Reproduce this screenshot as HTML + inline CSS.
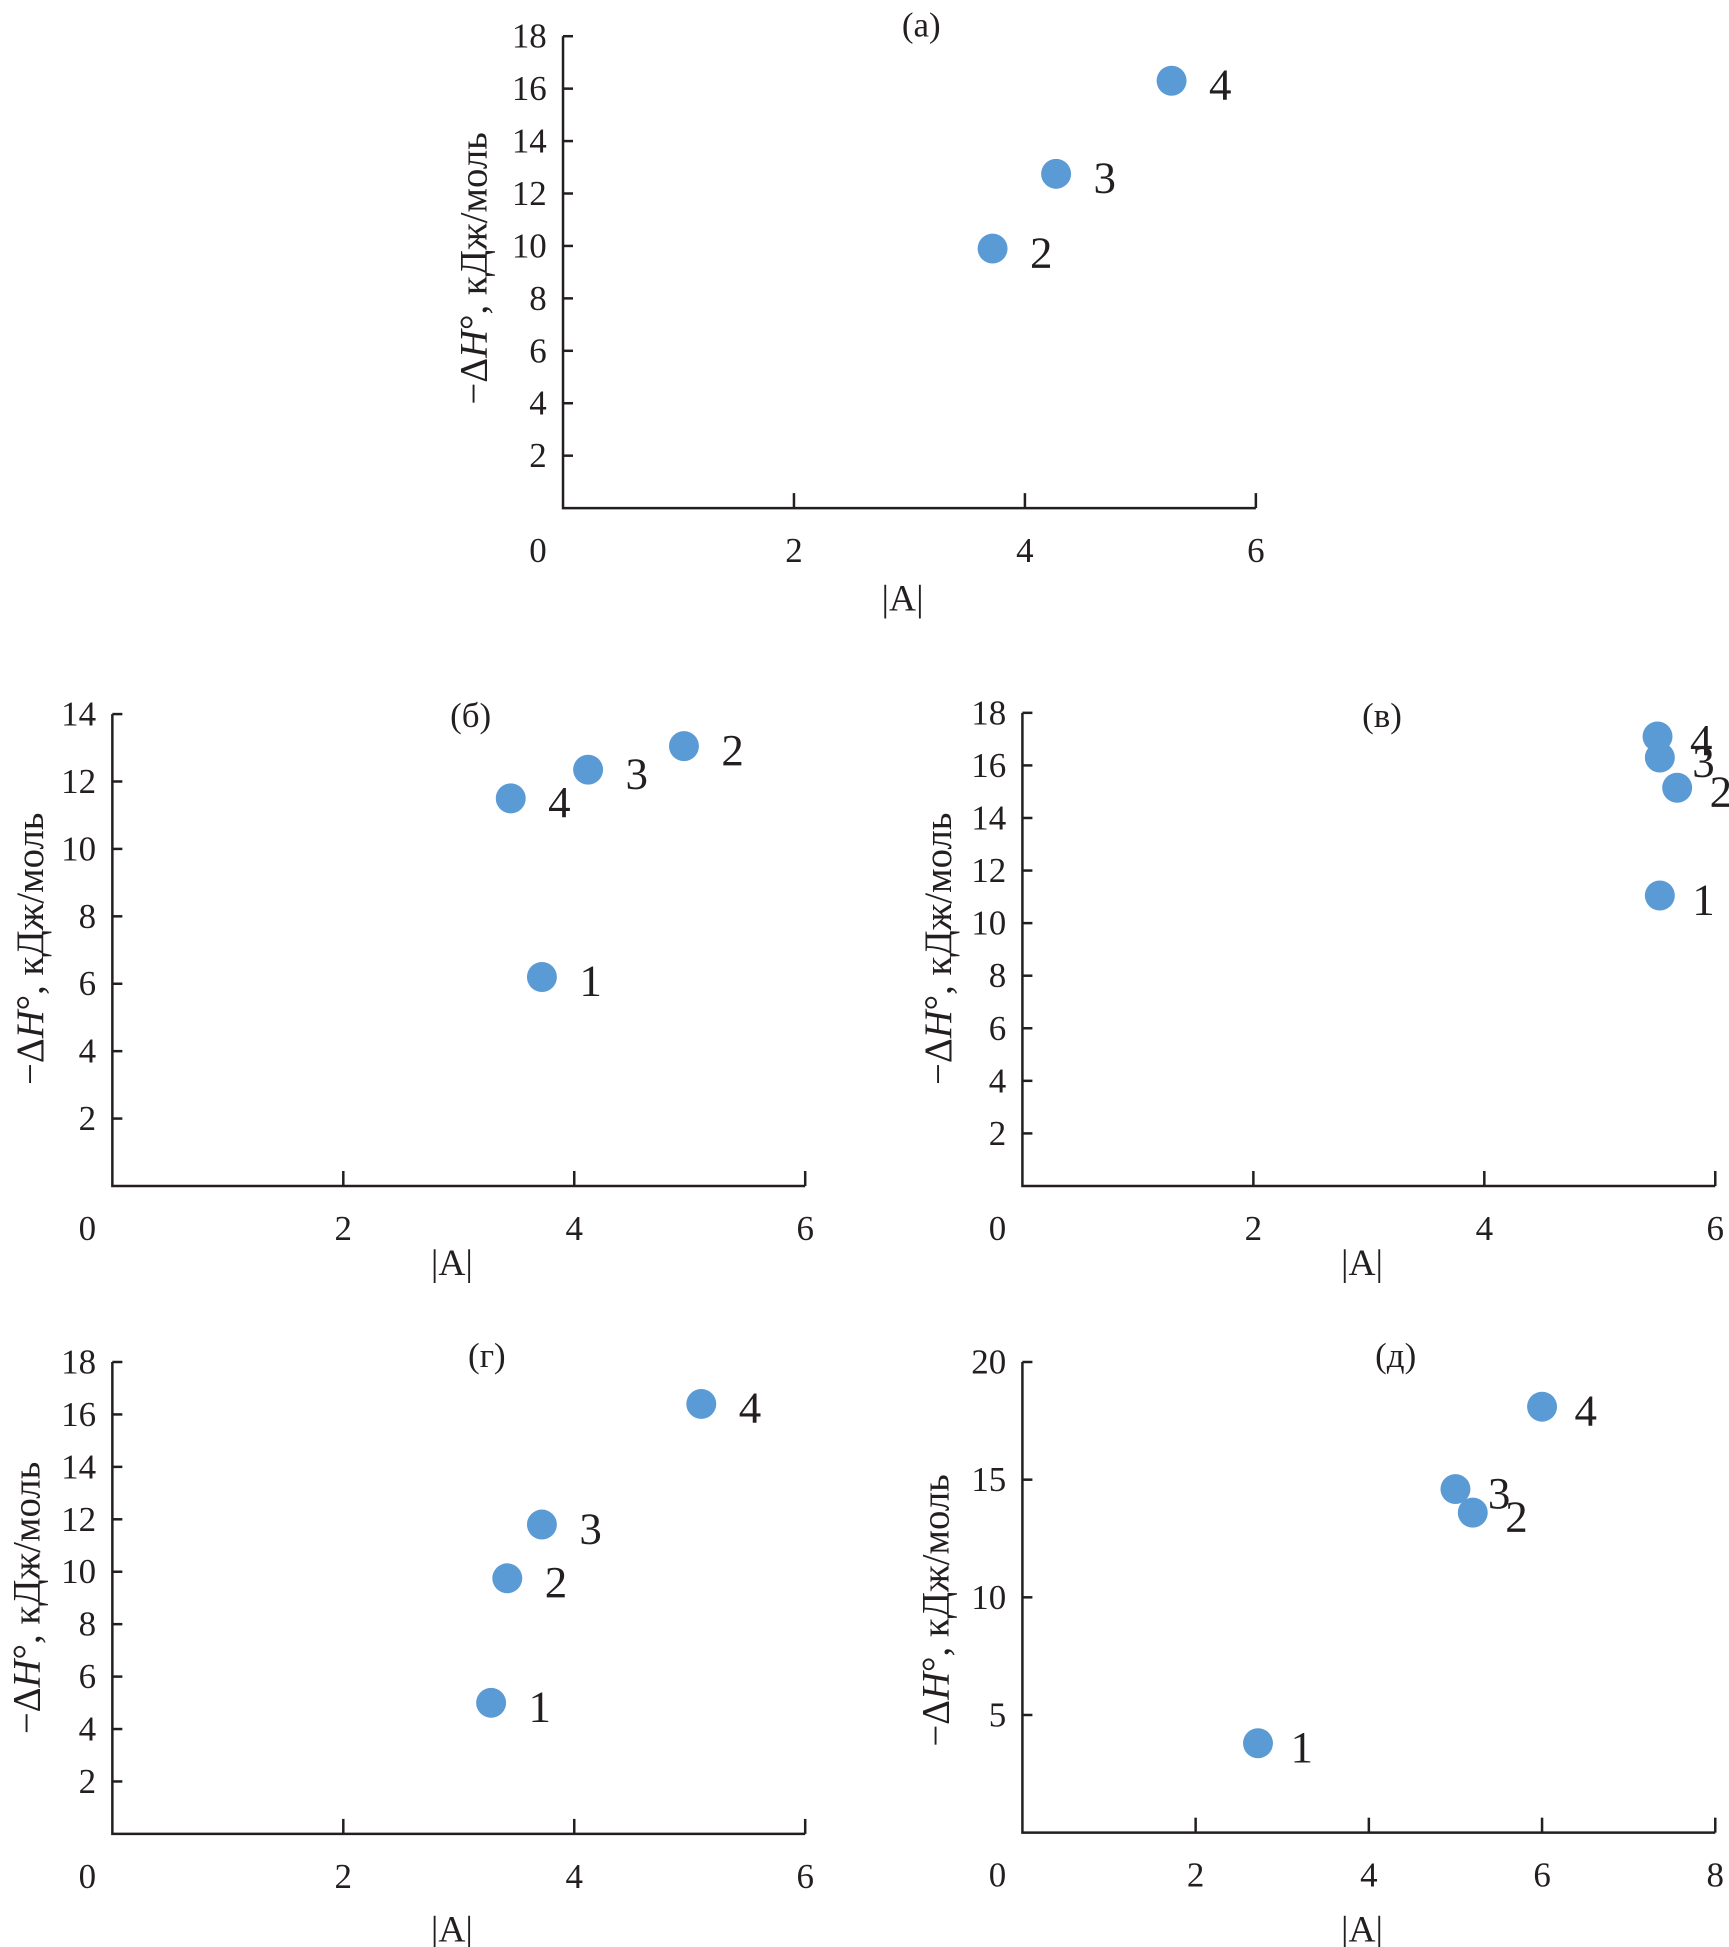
<!DOCTYPE html>
<html><head><meta charset="utf-8"><style>
html,body{margin:0;padding:0;background:#fff}
svg{display:block}
text{font-family:"Liberation Serif","DejaVu Serif",serif;fill:#231f20}
</style></head><body>
<svg id="fig" width="1729" height="1947" viewBox="0 0 1385 1559.6" preserveAspectRatio="none" xmlns="http://www.w3.org/2000/svg"></svg>
<script>
// Data per panel
const panelIds = ['a','b','v','g','d'];
const panelTitles = ['(а)','(б)','(в)','(г)','(д)'];
const ptLabelsA = ['2','3','4'];
const xValsA = [3.72, 4.27, 5.27];
const yValsA = [9.9, 12.75, 16.3];
const ptLabelsB = ['1','2','3','4'];
const xValsB = [3.72, 4.95, 4.12, 3.45];
const yValsB = [6.2, 13.05, 12.35, 11.5];
const ptLabelsV = ['1','2','3','4'];
const xValsV = [5.52, 5.67, 5.52, 5.5];
const yValsV = [11.05, 15.15, 16.3, 17.1];
const ptLabelsG = ['1','2','3','4'];
const xValsG = [3.28, 3.42, 3.72, 5.1];
const yValsG = [5.0, 9.75, 11.8, 16.4];
const ptLabelsD = ['1','2','3','4'];
const xValsD = [2.72, 5.2, 5.0, 6.0];
const yValsD = [3.8, 13.6, 14.6, 18.1];
const xTicks6 = [0,2,4,6];
const xTicks8 = [0,2,4,6,8];
const yTicks18 = [2,4,6,8,10,12,14,16,18];
const yTicks14 = [2,4,6,8,10,12,14];
const yTicks20 = [5,10,15,20];

const NS='http://www.w3.org/2000/svg';
const svg=document.getElementById('fig');
function mk(tag,attrs,parent,txt){const e=document.createElementNS(NS,tag);for(const k in attrs)e.setAttribute(k,attrs[k]);if(txt!==undefined)e.textContent=txt;(parent||svg).appendChild(e);return e;}

const layouts=[
 {x0:451,x1:1006,xmax:6,yb:407,yt:29,ymax:18,xt:xTicks6,yt2:yTicks18,xs:xValsA,ys:yValsA,ls:ptLabelsA,title:[738,20],yt_pos:[380,215],xl:[723,480],ldx:30},
 {x0:90,x1:645,xmax:6,yb:950,yt:572,ymax:14,xt:xTicks6,yt2:yTicks14,xs:xValsB,ys:yValsB,ls:ptLabelsB,title:[377,573],yt_pos:[25,760],xl:[362,1012],ldx:30},
 {x0:819,x1:1374,xmax:6,yb:950,yt:571,ymax:18,xt:xTicks6,yt2:yTicks18,xs:xValsV,ys:yValsV,ls:ptLabelsV,title:[1107,573],yt_pos:[752,760],xl:[1091,1012],ldx:26},
 {x0:90,x1:645,xmax:6,yb:1469,yt:1091,ymax:18,xt:xTicks6,yt2:yTicks18,xs:xValsG,ys:yValsG,ls:ptLabelsG,title:[390,1086],yt_pos:[22,1280],xl:[362,1546],ldx:30},
 {x0:819,x1:1374,xmax:8,yb:1468,yt:1091,ymax:20,xt:xTicks8,yt2:yTicks20,xs:xValsD,ys:yValsD,ls:ptLabelsD,title:[1118,1086],yt_pos:[750,1290],xl:[1091,1546],ldx:26}
];

layouts.forEach((L,pi)=>{
 const g=mk('g',{});
 
 
 const sx=v=>L.x0+(L.x1-L.x0)*v/L.xmax;
 const sy=v=>L.yb-(L.yb-L.yt)*v/L.ymax;
 const t=mk('text',{x:L.title[0],y:L.title[1],'font-size':28,'text-anchor':'middle','dominant-baseline':'central'},g,panelTitles[pi]);
 
 
 const ax=mk('path',{d:`M${L.x0},${sy(L.ymax)}V${L.yb}H${L.x1}`,stroke:'#231f20','stroke-width':2,fill:'none'},g);
 
 
 L.yt2.forEach(v=>{
  mk('line',{x1:L.x0,x2:L.x0+8,y1:sy(v),y2:sy(v),stroke:'#231f20','stroke-width':2},g);
  const tl=mk('text',{x:L.x0-13,y:sy(v),'font-size':28,'text-anchor':'end','dominant-baseline':'central'},g,String(v));
  
  
 });
 L.xt.forEach(v=>{
  if(v>0) mk('line',{x1:sx(v),x2:sx(v),y1:L.yb,y2:L.yb-12,stroke:'#231f20','stroke-width':2},g);
  const xx=v===0?L.x0-20:sx(v);
  const tl=mk('text',{x:xx,y:L.yb+34,'font-size':28,'text-anchor':'middle','dominant-baseline':'central'},g,String(v));
  
  
 });
 const xt=mk('text',{x:L.xl[0],y:L.xl[1],'font-size':30,'text-anchor':'middle','dominant-baseline':'central'},g,'|A|');
 
 
 const yt=mk('text',{x:0,y:0,'font-size':31,'text-anchor':'middle','dominant-baseline':'central',transform:`translate(${L.yt_pos[0]},${L.yt_pos[1]}) rotate(-90)`},g);
 
 
 mk('tspan',{},yt,'−Δ');
 mk('tspan',{'font-style':'italic'},yt,'H');
 mk('tspan',{},yt,'°, кДж/моль');
 L.xs.forEach((xv,i)=>{
  const c=mk('circle',{cx:sx(xv),cy:sy(L.ys[i]),r:12,fill:'#5b9bd5'},g);
  
  
  const lb=mk('text',{x:sx(xv)+L.ldx,y:sy(L.ys[i])+3,'font-size':36,'dominant-baseline':'central'},g,L.ls[i]);
  
  
 });
});
</script>
</body></html>
